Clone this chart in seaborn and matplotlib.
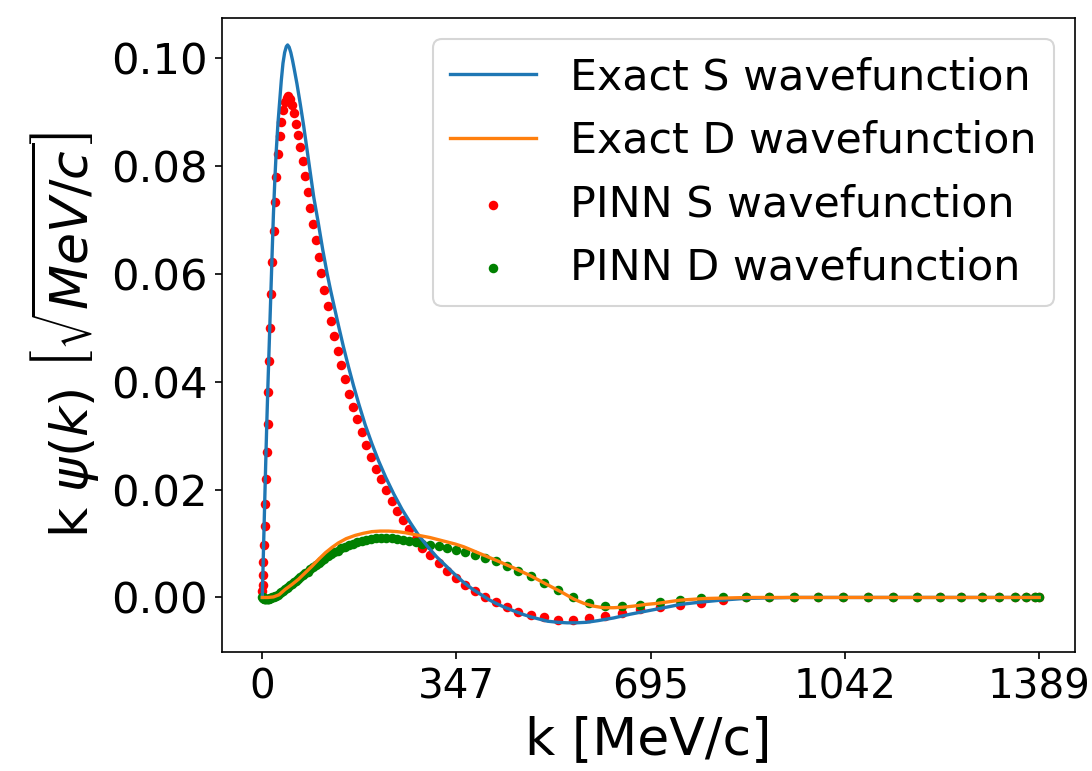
import matplotlib
matplotlib.use("Agg")
import matplotlib.pyplot as plt
import seaborn as sns
import numpy as np

# ---- exact S wavefunction (k, value) ----
k_exact_s = [0, 1, 2, 4, 6, 8, 10, 12, 14, 16, 18, 20, 22.5, 25, 28, 31, 34, 37, 40, 43, 45.3,
             48, 51, 54, 57, 62, 68, 74, 80, 86, 92, 100, 108, 116, 122, 128, 136, 145, 154,
             163, 173, 184, 196, 208, 221, 235, 250, 265, 279, 295, 312, 330, 345, 360, 375,
             390, 405, 420, 435, 450, 465, 480, 495, 510, 528, 545, 562, 580, 600, 628, 658,
             688, 718, 747, 780, 820, 860, 900, 950, 1050, 1200, 1389]
psi_exact_s = [0, 0.0040, 0.0082, 0.0163, 0.0243, 0.0320, 0.0390, 0.0455, 0.0520, 0.0585, 0.0650,
               0.0712, 0.0775, 0.0828, 0.0878, 0.0918, 0.0958, 0.0990, 0.1010, 0.1021, 0.1024,
               0.1020, 0.1010, 0.0996, 0.0980, 0.0952, 0.0914, 0.0874, 0.0830, 0.0786, 0.0742,
               0.0695, 0.0645, 0.0600, 0.0570, 0.0542, 0.0505, 0.0465, 0.0428, 0.0393, 0.0357,
               0.0320, 0.0285, 0.0253, 0.0222, 0.0192, 0.0163, 0.0138, 0.0116, 0.0095, 0.0075,
               0.0057, 0.0042, 0.0028, 0.0016, 0.0006, -0.0004, -0.0012, -0.0019, -0.0025,
               -0.0031, -0.0036, -0.0040, -0.0044, -0.0046, -0.0047, -0.0047, -0.0046, -0.0043,
               -0.0038, -0.0031, -0.0025, -0.0019, -0.0013, -0.0009, -0.0005, -0.0002, -0.0001,
               0, 0, 0, 0]

# ---- exact D wavefunction (k, value) ----
k_exact_d = [0, 10, 20, 30, 41, 53, 65, 77, 89, 101, 113, 125, 136, 150, 166, 181, 196, 211, 226,
             241, 256, 270, 285, 300, 315, 330, 345, 360, 390, 420, 449, 480, 509, 535, 557, 575,
             592, 610, 628, 646, 664, 685, 706, 747, 790, 830, 870, 950, 1100, 1250, 1389]
psi_exact_d = [0, 0, 0.0001, 0.0005, 0.0015, 0.0024, 0.0034, 0.0046, 0.0058, 0.0071, 0.0083,
               0.0093, 0.0101, 0.0109, 0.0115, 0.0119, 0.0122, 0.0123, 0.0123, 0.0122, 0.0120,
               0.0117, 0.0114, 0.0111, 0.0107, 0.0103, 0.0099, 0.0094, 0.0081, 0.0068, 0.0055,
               0.0040, 0.0024, 0.0010, -0.0003, -0.0011, -0.0016, -0.0019, -0.0019, -0.0018,
               -0.0016, -0.0013, -0.0011, -0.0005, -0.0002, -0.0001, 0, 0, 0, 0, 0]

# ---- PINN predictions on the collocation grid ----
k_pinn = [0.2, 0.6, 1.2, 1.8, 3.0, 4.2, 5.4, 6.6, 7.7, 9.5, 10.7, 12.5, 14.3, 15.8, 17.8, 20.3,
          23.2, 25.0, 27.4, 31.0, 34.0, 37.0, 40.3, 43.5, 46.7, 50.0, 53.0, 57.0, 60.8, 64.4,
          68.0, 72.7, 76.9, 81.0, 85.8, 90.6, 95.3, 100.6, 105.5, 110.8, 116.8, 122.8, 128.7,
          134.7, 141.2, 148.4, 154.9, 162.0, 169.2, 177.6, 185.9, 194.3, 202.6, 211.5, 221.0,
          231.2, 241.3, 251.7, 263.0, 274.0, 286.0, 300.0, 315.5, 331.0, 346.5, 363.0, 380.5,
          398.0, 417.0, 437.0, 457.5, 480.3, 504.1, 529.0, 555.0, 583.3, 612.5, 643.5, 675.0,
          710.3, 747.2, 784.2, 823.5, 864.6, 906.3, 949.8, 993.4, 1038.0, 1082.7, 1126.8,
          1169.7, 1211.5, 1250.1, 1285.9, 1317.5, 1344.9, 1365.7, 1381.8, 1389.0]
psi_pinn_s = [0.0012, 0.0024, 0.0041, 0.0066, 0.0097, 0.0132, 0.0173, 0.0219, 0.0269, 0.0322,
              0.0380, 0.0439, 0.0500, 0.0562, 0.0622, 0.0680, 0.0732, 0.0780, 0.0822, 0.0856,
              0.0882, 0.0904, 0.0918, 0.0926, 0.0929, 0.0924, 0.0913, 0.0897, 0.0878, 0.0857,
              0.0835, 0.0809, 0.0781, 0.0752, 0.0722, 0.0693, 0.0663, 0.0631, 0.0601, 0.0570,
              0.0541, 0.0513, 0.0484, 0.0456, 0.0430, 0.0404, 0.0378, 0.0353, 0.0330, 0.0306,
              0.0283, 0.0261, 0.0239, 0.0219, 0.0199, 0.0179, 0.0161, 0.0143, 0.0126, 0.0109,
              0.0092, 0.0078, 0.0063, 0.0049, 0.0036, 0.0024, 0.0012, 0.0001, -0.0009, -0.0018,
              -0.0027, -0.0032, -0.0037, -0.0041, -0.0041, -0.0038, -0.0035, -0.0028, -0.0022,
              -0.0017, -0.0014, -0.0010, -0.0005, 0, 0, 0, 0, 0, 0, 0, 0, 0, 0, 0, 0, 0, 0, 0, 0]
psi_pinn_d = [0.0000, 0.0000, -0.0001, -0.0001, -0.0002, -0.0002, -0.0002, -0.0002, -0.0002,
              -0.0002, -0.0002, -0.0002, -0.0001, -0.0001, 0.0000, 0.0000, 0.0002, 0.0003, 0.0005,
              0.0008, 0.0010, 0.0012, 0.0015, 0.0018, 0.0020, 0.0023, 0.0025, 0.0028, 0.0031,
              0.0034, 0.0037, 0.0041, 0.0045, 0.0048, 0.0052, 0.0056, 0.0060, 0.0064, 0.0068,
              0.0072, 0.0076, 0.0080, 0.0084, 0.0087, 0.0091, 0.0094, 0.0097, 0.0100, 0.0102,
              0.0105, 0.0107, 0.0109, 0.0110, 0.0111, 0.0111, 0.0110, 0.0108, 0.0106, 0.0104,
              0.0102, 0.0100, 0.0098, 0.0095, 0.0092, 0.0088, 0.0084, 0.0079, 0.0073, 0.0067,
              0.0058, 0.0049, 0.0039, 0.0026, 0.0013, 0.0001, -0.0011, -0.0016, -0.0016, -0.0014,
              -0.0009, -0.0004, -0.0001, 0, 0, 0, 0, 0, 0, 0, 0, 0, 0, 0, 0, 0, 0, 0, 0, 0]

x_ticks = [0, 347, 695, 1042, 1389]
y_ticks = [0.00, 0.02, 0.04, 0.06, 0.08, 0.10]

plt.rcParams['font.family'] = ['DejaVu Sans']
plt.rcParams['mathtext.fontset'] = 'dejavusans'

fig = plt.figure(figsize=(7.28, 5.14), dpi=150)
ax = fig.add_axes([0.2033, 0.1537, 0.9844 - 0.2033, 0.9767 - 0.1537])

sns.lineplot(x=k_exact_s, y=psi_exact_s, ax=ax, color='#1f77b4', linewidth=1.6,
             label='Exact S wavefunction', zorder=3)
sns.lineplot(x=k_exact_d, y=psi_exact_d, ax=ax, color='#ff7f0e', linewidth=1.6,
             label='Exact D wavefunction', zorder=3)
sns.scatterplot(x=k_pinn, y=psi_pinn_s, ax=ax, color='red', s=21, linewidth=0,
                label='PINN S wavefunction', zorder=2)
sns.scatterplot(x=k_pinn, y=psi_pinn_d, ax=ax, color='green', s=21, linewidth=0,
                label='PINN D wavefunction', zorder=2)

ax.set_xlim(-72, 1453)
ax.set_ylim(-0.0102, 0.1074)
ax.set_xticks(x_ticks)
ax.set_xticklabels([str(t) for t in x_ticks])
ax.set_yticks(y_ticks)
ax.set_yticklabels([f'{t:.2f}' for t in y_ticks])
ax.tick_params(axis='y', labelsize=20.8, length=3.5, width=0.8)
ax.tick_params(axis='x', labelsize=19.4, length=3.5, width=0.8)
for sp in ax.spines.values():
    sp.set_visible(True)
    sp.set_color('black')
    sp.set_linewidth(0.8)

ax.set_xlabel('k [MeV/c]', fontsize=25)
ax.set_ylabel(r'k $\psi(k)$ $\left[\sqrt{MeV/c}\right]$', fontsize=25)
ax.legend(fontsize=20.5, loc='upper right')

fig.savefig('out.png', dpi=150)
